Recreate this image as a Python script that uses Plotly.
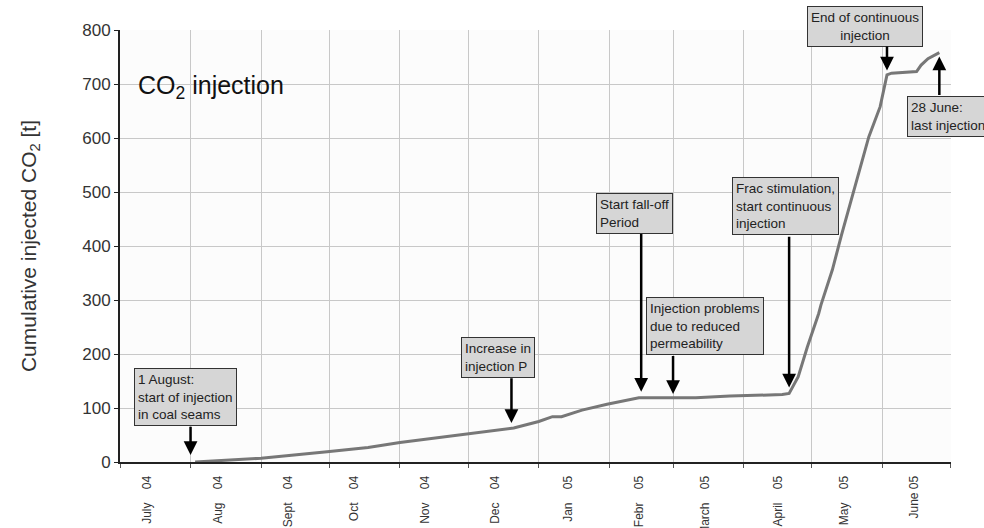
import plotly.graph_objects as go

# Cumulative injected CO2 over the injection campaign
dates = ["2004-08-03", "2004-09-01", "2004-09-30", "2004-10-18", "2004-11-01",
         "2004-11-17", "2004-12-01", "2004-12-21", "2005-01-01", "2005-01-07",
         "2005-01-11", "2005-01-20", "2005-01-31", "2005-02-12", "2005-02-14",
         "2005-03-11", "2005-03-26", "2005-04-18", "2005-04-21", "2005-04-25",
         "2005-04-29", "2005-05-04", "2005-05-05", "2005-05-10", "2005-05-14",
         "2005-05-26", "2005-05-31", "2005-06-03", "2005-06-05", "2005-06-16",
         "2005-06-18", "2005-06-21", "2005-06-26"]
co2_t = [0, 7, 19, 27, 36, 45, 53, 63, 75, 84, 84, 96, 107, 118, 119, 119, 122,
         125, 127, 158, 213, 275, 291, 356, 420, 602, 658, 717, 720, 723, 735,
         747, 758]

# Month labels on the time axis
tick_dates = ["2004-07-13", "2004-08-13", "2004-09-13", "2004-10-12", "2004-11-12",
              "2004-12-13", "2005-01-14", "2005-02-14", "2005-03-15", "2005-04-16",
              "2005-05-15", "2005-06-15"]
tick_months = ["July", "Aug", "Sept", "Oct", "Nov", "Dec", "Jan", "Febr",
               "March", "April", "May", "June"]
tick_years = ["04", "04", "04", "04", "04", "04", "05", "05", "05", "05", "05", "05"]
tick_gaps = [4, 4, 4, 4, 4, 4, 4, 4, 4, 4, 4, 1]

# Event annotations: text, box left date, box top (axis value or domain fraction),
# arrow date, arrow tail value, arrow head value
event_text = ["1 August:<br>start of injection<br>in coal seams",
              "Increase in<br>injection P",
              "Start fall-off<br>Period",
              "Injection problems<br>due to reduced<br>permeability",
              "Frac stimulation,<br>start continuous<br>injection",
              "End of continuous<br>injection",
              "28 June:<br>last injection"]
box_left = ["2004-07-07", "2004-11-28", "2005-01-26", "2005-02-17",
            "2005-03-27", "2005-04-29", "2005-06-12"]
box_top = [175, 232, 498, 306, 527, 1.0556, 677]
box_yref = ["y", "y", "y", "y", "y", "y domain", "y"]
box_align = ["left", "left", "left", "left", "left", "center", "left"]
arrow_date = ["2004-08-01", "2004-12-20", "2005-02-15", "2005-03-01",
              "2005-04-21", "2005-06-03", "2005-06-26"]
arrow_tail = [68, 158, 425, 199, 420, 772, 677]
arrow_head = [13, 72, 130, 126, 138, 725, 751]

NBSP = "\u00a0"
tick_text = [m + NBSP * g + y for m, g, y in zip(tick_months, tick_gaps, tick_years)]

FONT = "Liberation Sans, Arial, sans-serif"

fig = go.Figure()
fig.add_trace(go.Scatter(
    x=dates, y=co2_t, mode="lines",
    line=dict(color="#777777", width=3),
    hoverinfo="skip", showlegend=False,
))

annotations = []
for txt, bl, bt, yr, al in zip(event_text, box_left, box_top, box_yref, box_align):
    annotations.append(dict(
        x=bl, y=bt, xref="x", yref=yr, xanchor="left", yanchor="top",
        text=txt, align=al, showarrow=False,
        bgcolor="#d6d6d6", bordercolor="#333333", borderwidth=1, borderpad=3,
        font=dict(family=FONT, size=13.5, color="#222222"),
    ))
for ad, at, ah in zip(arrow_date, arrow_tail, arrow_head):
    annotations.append(dict(
        x=ad, y=ah, ax=ad, ay=at, xref="x", yref="y", axref="x", ayref="y",
        text="", showarrow=True, arrowhead=2, arrowsize=1.1, arrowwidth=2.5,
        arrowcolor="#000000", standoff=0, startstandoff=0,
    ))
annotations.append(dict(
    x="2004-07-08", y=694, xref="x", yref="y", xanchor="left", yanchor="middle",
    text="CO<sub>2</sub> injection", showarrow=False,
    font=dict(family=FONT, size=25, color="#111111"),
))

fig.update_layout(
    width=984, height=528,
    margin=dict(l=120, r=33, t=30, b=66),
    paper_bgcolor="#ffffff", plot_bgcolor="#fcfcfc",
    annotations=annotations,
    xaxis=dict(
        type="date", range=["2004-07-01", "2005-07-01 03:00"], automargin=False,
        tickmode="array", tickvals=tick_dates, ticktext=tick_text,
        tickangle=-90, ticks="", showgrid=False, zeroline=False,
        ticklabelstandoff=7,
        tickfont=dict(family=FONT, size=12, color="#333333"),
        showline=True, linecolor="#222222", linewidth=2,
        minor=dict(tick0="2004-07-01", dtick="M1", showgrid=True,
                   gridcolor="#c8c8c8", gridwidth=1, ticks="outside",
                   ticklen=4, tickcolor="#555555"),
    ),
    yaxis=dict(
        range=[0, 800], dtick=100, showgrid=True, gridcolor="#c8c8c8", gridwidth=1,
        zeroline=False, showline=True, linecolor="#222222", linewidth=2,
        ticks="outside", ticklen=4, tickcolor="#222222", automargin=False,
        tickfont=dict(family=FONT, size=17, color="#333333"),
        title=dict(text="Cumulative injected CO<sub>2</sub> [t]", standoff=40,
                   font=dict(family=FONT, size=21, color="#333333")),
    ),
)

fig.write_html("out.html")
